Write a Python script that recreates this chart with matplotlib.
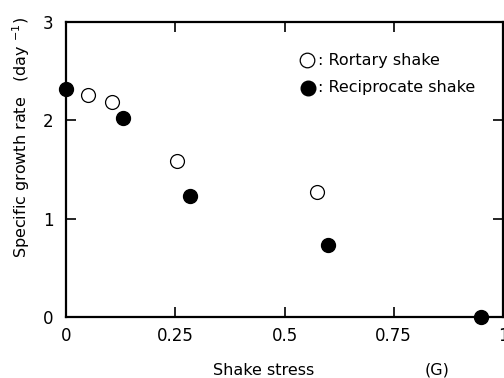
import matplotlib
matplotlib.use("Agg")
import matplotlib.pyplot as plt

# Shake stress (G) vs specific growth rate (day^-1)
rotary_x = [0.05, 0.105, 0.255, 0.575]
rotary_y = [2.26, 2.19, 1.59, 1.27]
recip_x = [0.0, 0.13, 0.283, 0.60, 0.95]
recip_y = [2.32, 2.02, 1.23, 0.73, 0.0]

x_ticks = [0, 0.25, 0.5, 0.75, 1]
x_labels = ["0", "0.25", "0.5", "0.75", "1"]
y_ticks = [0, 1, 2, 3]

plt.rcParams["font.family"] = "DejaVu Sans"
fig = plt.figure(figsize=(5.04, 3.78), dpi=100)
ax = fig.add_axes([0.131, 0.161, 0.867, 0.781])

ax.plot(recip_x, recip_y, "o", ms=10, mfc="black", mec="black", clip_on=False, zorder=5)
ax.plot(rotary_x, rotary_y, "o", ms=10, mfc="white", mec="black", mew=0.9, clip_on=False, zorder=5)

ax.set_xlim(0, 1)
ax.set_ylim(0, 3)
ax.set_xticks(x_ticks)
ax.set_xticklabels(x_labels)
ax.set_yticks(y_ticks)
ax.tick_params(direction="in", length=7, width=1.2, labelsize=12, pad=7,
               top=True, right=True, labelcolor="black")
ax.tick_params(axis="y", pad=9)
for s in ax.spines.values():
    s.set_linewidth(1.6)

fig.text(0.042, 0.637, "Specific growth rate   (day $^{-1}$)", fontsize=11.5,
         rotation=90, ha="center", va="center")
fig.text(0.524, 0.008, "Shake stress", fontsize=11.5, ha="center", va="baseline")
fig.text(0.867, 0.008, "(G)", fontsize=11.5, ha="center", va="baseline")

# legend drawn as marker + text, like the original figure
ax.plot([0.551], [2.61], "o", ms=10.5, mfc="white", mec="black", mew=0.9)
ax.plot([0.553], [2.33], "o", ms=10.5, mfc="black", mec="black")
ax.text(0.577, 2.61, ": Rortary shake", fontsize=11.5, va="center")
ax.text(0.577, 2.33, ": Reciprocate shake", fontsize=11.5, va="center")

fig.savefig("out.png", dpi=100)
